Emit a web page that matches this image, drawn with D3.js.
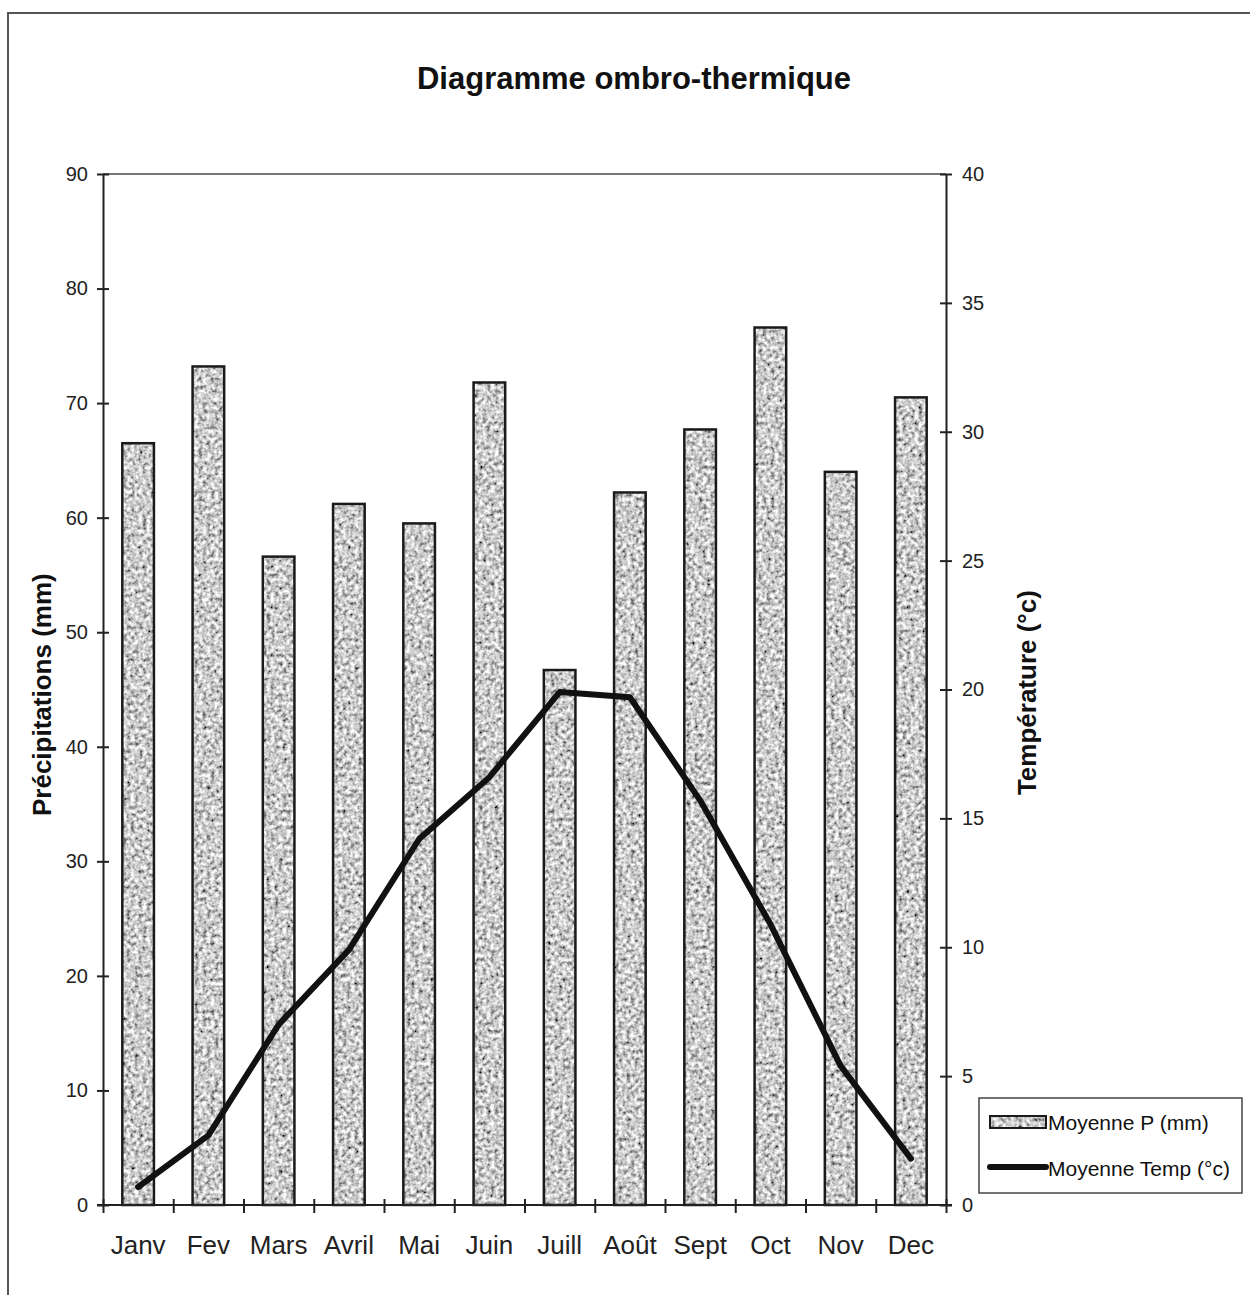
<!DOCTYPE html>
<meta charset="utf-8">
<style>
body { margin: 0; background: #fff; }
svg { font-family: "Liberation Sans", Arial, sans-serif; }
.axis path { stroke: #222; stroke-width: 2; }
.axis line { stroke: #222; stroke-width: 2; }
.axis text { fill: #222; }
</style>
<svg width="1250" height="1295"></svg>
<script src="https://d3js.org/d3.v7.min.js"></script>
<script>

  var months = ["Janv", "Fev", "Mars", "Avril", "Mai", "Juin", "Juill", "Août", "Sept", "Oct", "Nov", "Dec"];
  var precip = [66.5, 73.2, 56.6, 61.2, 59.5, 71.8, 46.7, 62.2, 67.7, 76.6, 64.0, 70.5];
  var temp = [0.7, 2.7, 7.0, 9.9, 14.2, 16.6, 19.9, 19.7, 15.7, 10.9, 5.4, 1.8];
  var precipTicks = [0, 10, 20, 30, 40, 50, 60, 70, 80, 90];
  var tempTicks = [0, 5, 10, 15, 20, 25, 30, 35, 40];

  var svg = d3.select("svg"),
      margin = {top: 174, left: 103},
      width = 843,
      height = 1031;

  // grain texture for the bars
  var defs = svg.append("defs");
  var f = defs.append("filter").attr("id", "grain")
    .attr("x", 0).attr("y", 0).attr("width", 1).attr("height", 1);
  f.append("feTurbulence").attr("type", "fractalNoise")
    .attr("baseFrequency", 0.25).attr("numOctaves", 2).attr("seed", 4).attr("result", "noise");
  f.append("feColorMatrix").attr("in", "noise").attr("type", "matrix")
    .attr("values", "1.7 0 0 0 -0.25  1.7 0 0 0 -0.25  1.7 0 0 0 -0.25  0 0 0 0 1")
    .attr("result", "gray");
  f.append("feComposite").attr("in", "gray").attr("in2", "SourceGraphic").attr("operator", "in");

  // outer frame (partly cut off in the scan)
  svg.append("path")
    .attr("d", "M8,1295 V13 H1250")
    .attr("fill", "none").attr("stroke", "#555").attr("stroke-width", 2);

  // title
  svg.append("text")
    .attr("x", 634).attr("y", 89)
    .attr("text-anchor", "middle")
    .attr("font-size", 31).attr("font-weight", "bold").attr("fill", "#111")
    .text("Diagramme ombro-thermique");

  var g = svg.append("g")
    .attr("transform", "translate(" + margin.left + "," + margin.top + ")");

  // scales
  var x = d3.scaleBand().domain(months).range([0, width])
    .paddingInner(0.55).paddingOuter(0.275);
  var xb = d3.scaleLinear().domain([0, months.length]).range([0, width]);
  var y = d3.scaleLinear().domain([0, 90]).range([height, 0]);
  var y2 = d3.scaleLinear().domain([0, 40]).range([height, 0]);

  // top border of plot area
  g.append("line")
    .attr("x1", 0).attr("x2", width).attr("y1", 0).attr("y2", 0)
    .attr("stroke", "#777").attr("stroke-width", 2);

  // bars
  var bars = g.selectAll(".bar").data(precip).enter().append("g").attr("class", "bar");
  bars.append("rect")
    .attr("x", function(d, i) { return x(months[i]); })
    .attr("y", function(d) { return y(d); })
    .attr("width", x.bandwidth())
    .attr("height", function(d) { return height - y(d); })
    .attr("fill", "#999")
    .attr("filter", "url(#grain)");
  bars.append("rect")
    .attr("x", function(d, i) { return x(months[i]); })
    .attr("y", function(d) { return y(d); })
    .attr("width", x.bandwidth())
    .attr("height", function(d) { return height - y(d); })
    .attr("fill", "none")
    .attr("stroke", "#1a1a1a")
    .attr("stroke-width", 2.5);

  // left axis
  var ax = g.append("g").attr("class", "axis")
    .call(d3.axisLeft(y).tickValues(precipTicks).tickSize(6).tickSizeOuter(0).tickPadding(9));
  ax.selectAll(".tick line").attr("x1", 6);
  ax.selectAll(".tick text").attr("font-size", 20).attr("font-family", "Liberation Sans, Arial, sans-serif");

  // right axis
  var ar = g.append("g").attr("class", "axis")
    .attr("transform", "translate(" + width + ",0)")
    .call(d3.axisRight(y2).tickValues(tempTicks).tickSize(6).tickSizeOuter(0).tickPadding(10));
  ar.selectAll(".tick line").attr("x1", -6);
  ar.selectAll(".tick text").attr("font-size", 20).attr("font-family", "Liberation Sans, Arial, sans-serif");

  // bottom axis: ticks at category boundaries
  var ab = g.append("g").attr("class", "axis")
    .attr("transform", "translate(0," + height + ")")
    .call(d3.axisBottom(xb).tickValues(d3.range(months.length + 1)).tickFormat("").tickSize(8).tickSizeOuter(0));
  ab.selectAll(".tick line").attr("y1", -6);
  ab.select(".domain").attr("d", "M-6,0H" + (width + 6));

  // month labels
  g.append("g").attr("class", "axis")
    .attr("transform", "translate(0," + height + ")")
    .call(d3.axisBottom(x).tickSize(0).tickPadding(31))
    .call(function(s) { s.select(".domain").remove(); })
    .selectAll("text").attr("font-size", 26).attr("font-family", "Liberation Sans, Arial, sans-serif");

  // temperature line
  var line = d3.line()
    .x(function(d, i) { return x(months[i]) + x.bandwidth() / 2; })
    .y(function(d) { return y2(d); });
  g.append("path")
    .datum(temp)
    .attr("fill", "none")
    .attr("stroke", "#111")
    .attr("stroke-width", 6)
    .attr("stroke-linejoin", "round")
    .attr("stroke-linecap", "round")
    .attr("d", line);

  // axis titles
  svg.append("text")
    .attr("transform", "translate(51," + (margin.top + height * 0.505) + ") rotate(-90)")
    .attr("text-anchor", "middle")
    .attr("font-size", 26).attr("font-weight", "bold").attr("fill", "#111")
    .text("Précipitations (mm)");
  svg.append("text")
    .attr("transform", "translate(1036," + (margin.top + height * 0.503) + ") rotate(-90)")
    .attr("text-anchor", "middle")
    .attr("font-size", 26).attr("font-weight", "bold").attr("fill", "#111")
    .text("Température (°c)");

  // legend
  var lg = svg.append("g").attr("transform", "translate(979,1098)");
  lg.append("rect").attr("width", 263).attr("height", 95)
    .attr("fill", "#fff").attr("stroke", "#444").attr("stroke-width", 1.5);
  lg.append("rect").attr("x", 11).attr("y", 18).attr("width", 56).attr("height", 12)
    .attr("fill", "#999").attr("filter", "url(#grain)");
  lg.append("rect").attr("x", 11).attr("y", 18).attr("width", 56).attr("height", 12)
    .attr("fill", "none").attr("stroke", "#1a1a1a").attr("stroke-width", 2);
  lg.append("line").attr("x1", 11).attr("x2", 67).attr("y1", 69).attr("y2", 69)
    .attr("stroke", "#111").attr("stroke-width", 6).attr("stroke-linecap", "round");
  lg.append("text").attr("x", 69).attr("y", 32).attr("font-size", 21).attr("fill", "#111")
    .text("Moyenne P (mm)");
  lg.append("text").attr("x", 69).attr("y", 78).attr("font-size", 21).attr("fill", "#111")
    .text("Moyenne Temp (°c)");
</script>
